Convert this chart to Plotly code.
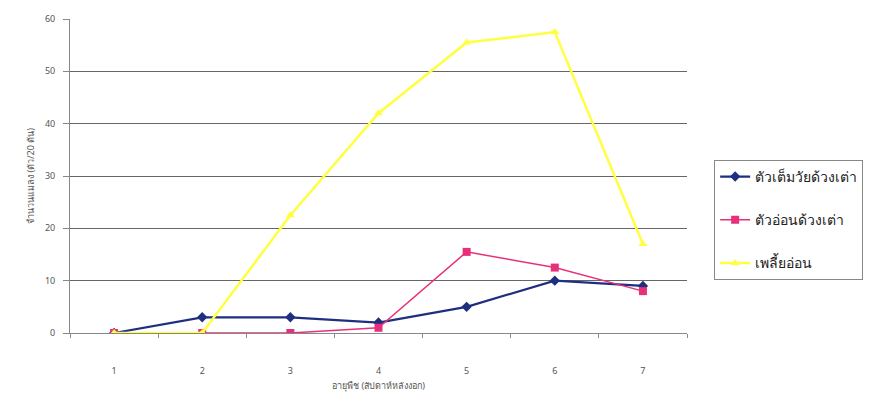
import plotly.graph_objects as go

weeks = ["1", "2", "3", "4", "5", "6", "7"]
adult_beetle = [0, 3, 3, 2, 5, 10, 9]
larva_beetle = [0, 0, 0, 1, 15.5, 12.5, 8]
aphid = [0, 0, 22.5, 42, 55.5, 57.5, 17]
y_ticks = [0, 10, 20, 30, 40, 50, 60]

series = [
    ("ตัวเต็มวัยด้วงเต่า", adult_beetle, "#1f2f80", "diamond", 2.2),
    ("ตัวอ่อนด้วงเต่า", larva_beetle, "#e8307a", "square", 1.5),
    ("เพลี้ยอ่อน", aphid, "#ffff40", "triangle-up", 2.5),
]

fig = go.Figure()
for name, vals, color, symbol, lw in series:
    fig.add_trace(go.Scatter(
        x=weeks, y=vals, name=name, mode="lines+markers",
        legendgroup=name,
        line=dict(color=color, width=lw),
        marker=dict(color=color, symbol=symbol, size=8),
    ))

fig.update_layout(
    width=893, height=401,
    margin=dict(l=70, r=206, t=16, b=68),
    paper_bgcolor="white", plot_bgcolor="white",
    font=dict(family="Noto Sans, DejaVu Sans", color="#555555", size=9),
    legend=dict(
        x=1.044, y=0.36, xanchor="left", yanchor="middle",
        bordercolor="#888888", borderwidth=1,
        font=dict(size=14, color="#222222"),
        tracegroupgap=22,
    ),
    showlegend=True,
)
fig.update_xaxes(
    type="category", range=[-0.5, 6.5],
    showgrid=False, showline=True, linecolor="#888888",
    ticks="outside", tickson="boundaries", ticklen=4, tickcolor="#888888",
    ticklabelstandoff=29,
    title=dict(text="อายุพืช (สัปดาห์หลังงอก)", font=dict(size=9), standoff=6),
    zeroline=False,
)
fig.update_yaxes(
    range=[0, 60], tickmode="array", tickvals=y_ticks,
    showgrid=True, gridcolor="#666666", gridwidth=1,
    showline=True, linecolor="#888888", ticks="outside", ticklen=6,
    tickcolor="#888888", ticklabelstandoff=6,
    title=dict(text="จำนวนแมลง (ตัว/20 ต้น)", font=dict(size=9), standoff=8),
    zeroline=False,
)

fig.write_html("out.html")
